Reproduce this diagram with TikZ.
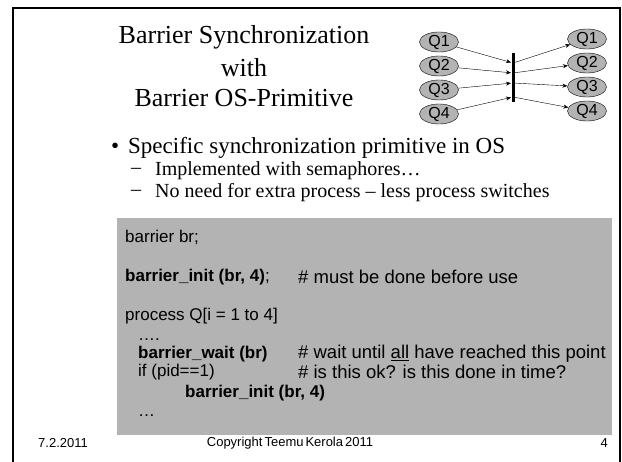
\documentclass[tikz,border=0pt]{standalone}
\usepackage{fontspec}
\setmainfont{Liberation Serif}
\setsansfont{Liberation Sans}
\usetikzlibrary{shapes.geometric,arrows.meta}
\definecolor{boxgray}{RGB}{179,179,179}
\newcommand{\fsz}[1]{\fontsize{#1}{#1}\selectfont}

\begin{document}
\begin{tikzpicture}[x=1pt,y=-1pt,thin,
    q node/.style={ellipse,draw,fill=boxgray,inner sep=0pt,minimum width=39pt,minimum height=20pt,font=\sffamily\fsz{16}},
    title line/.style={inner sep=0pt,font=\fsz{26}},
    code line/.style={anchor=west,inner sep=0pt,font=\sffamily\fsz{17}},
    note line/.style={anchor=west,inner sep=0pt,font=\sffamily\fsz{18.5}},
    foot/.style={inner sep=0pt,font=\sffamily\fsz{13}},
    flow/.style={-{Stealth[length=5pt,width=4pt]}}]
    \useasboundingbox (0,0) rectangle (622,462);
    % slide frame
    \draw[line width=2.5pt] (13,462) -- (13,8) -- (620,8) -- (620,462);

    % title
    \node[title line] (t1) at (244,37) {Barrier Synchronization};
    \node[title line] (t2) at (244,68) {with};
    \node[title line] (t3) at (244,98) {Barrier OS-Primitive};

    % processes and the barrier
    \node[q node] (L1) at (439,42) {Q1};
    \node[q node] (L2) at (439,66) {Q2};
    \node[q node] (L3) at (439,90) {Q3};
    \node[q node] (L4) at (439,114) {Q4};
    \node[q node] (R1) at (587,39) {Q1};
    \node[q node] (R2) at (587,63) {Q2};
    \node[q node] (R3) at (587,87) {Q3};
    \node[q node] (R4) at (587,111) {Q4};
    \coordinate (top) at (513,53);
    \coordinate (bot) at (513,102);
    \draw[line width=3pt] (top) -- (bot);
    \coordinate (b1) at (513,63);
    \coordinate (b2) at (513,73);
    \coordinate (b3) at (513,83);
    \coordinate (b4) at (513,97);
    \foreach \i in {1,...,4} {
      \draw[flow,shorten >=2pt] (L\i) -- (b\i);
      \draw[flow,shorten <=2pt] (b\i) -- (R\i);
    }

    % bullets
    \node[anchor=west,inner sep=0pt,font=\fsz{23}] (dot) at (111,148) {\textbullet};
    \node[anchor=west,inner sep=0pt,font=\fsz{23}] (b0) at (128,148) {Specific synchronization primitive in OS};
    \node[anchor=west,inner sep=0pt,font=\fsz{20}] (d1) at (131,171) {\textendash};
    \node[anchor=west,inner sep=0pt,font=\fsz{20}] (s1) at (155,171) {Implemented with semaphores\dots};
    \node[anchor=west,inner sep=0pt,font=\fsz{20}] (d2) at (131,193) {\textendash};
    \node[anchor=west,inner sep=0pt,font=\fsz{20}] (s2) at (155,193) {No need for extra process \textendash\ less process switches};

    % code box
    \fill[boxgray] (117,218) rectangle (612,435);
    \node[code line] (c1) at (125,237) {barrier br;};
    \node[code line] (c2) at (125,277) {\textbf{barrier\_init (br, 4)};};
    \node[note line] (k2) at (298,277) {\# must be done before use};
    \node[code line] (c3) at (125,316) {process Q[i = 1 to 4]};
    \node[code line,anchor=base west] (c4) at (138,341) {\dots.};
    \node[code line] (c5) at (138,354) {\textbf{barrier\_wait (br)}};
    \node[note line] (k5) at (298,354) {\# wait until \underline{all} have reached this point};
    \node[code line] (c6) at (138,372) {if (pid==1)};
    \node[note line] (k6) at (298,372) {\# is this ok? is this done in time?};
    \node[code line] (c7) at (185,393) {\textbf{barrier\_init (br, 4)}};
    \node[code line,anchor=base west] (c8) at (138,417) {\dots};

    % footer
    \node[foot,anchor=west] (date) at (38,443) {7.2.2011};
    \node[foot] (copy) at (290,443) {Copyright\hspace{2pt}Teemu\hspace{2pt}Kerola\hspace{2pt}2011};
    \node[foot,anchor=east] (page) at (608,443) {4};
\end{tikzpicture}
\end{document}
